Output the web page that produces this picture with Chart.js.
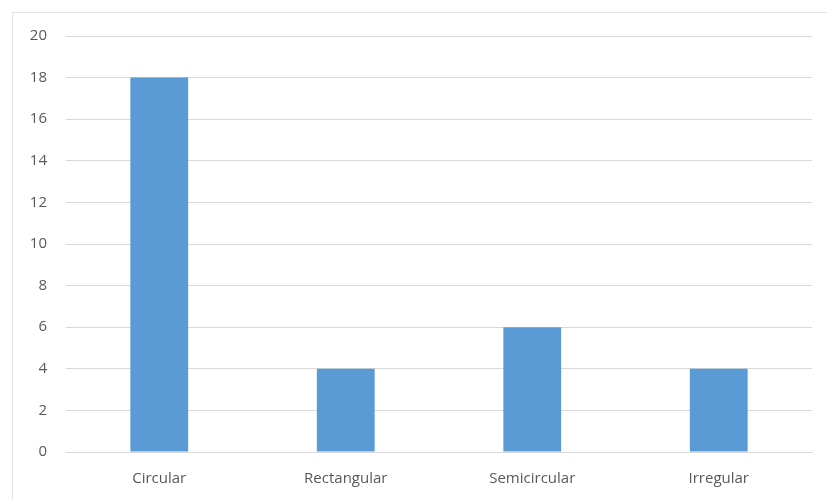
<!DOCTYPE html>
<html>
<head>
<meta charset="utf-8">
<script src="https://cdn.jsdelivr.net/npm/chart.js@4"></script>
<style>
  html, body { margin: 0; padding: 0; background: #fff; overflow: hidden; }
  #frame { position: absolute; left: 12px; top: 12px; width: 840px; height: 520px; border: 1px solid #e3e3e3; }
  #box { position: absolute; left: 0; top: 0; width: 814px; height: 487px; }
</style>
</head>
<body>
<div id="frame"><div id="box"><canvas id="chart"></canvas></div></div>
<script>
    // values
    const categories = ['Circular', 'Rectangular', 'Semicircular', 'Irregular'];
    const counts = [18, 4, 6, 4];
    const yTicks = [0, 2, 4, 6, 8, 10, 12, 14, 16, 18, 20];

    const barColor = '#5b9bd5';
    const tickFont = { family: 'Open Sans', size: 15 };

    new Chart(document.getElementById('chart'), {
        type: 'bar',
        data: {
            labels: categories,
            datasets: [{ label: 'Count', data: counts, backgroundColor: barColor, borderWidth: 0,
                categoryPercentage: 1.0, barPercentage: 0.31 }]
        },
        options: {
            responsive: true,
            maintainAspectRatio: false,
            animation: false,
            layout: { padding: { top: 23, right: 15, left: 0, bottom: 0 } },
            plugins: { legend: { display: false }, tooltip: { enabled: false } },
            scales: {
                x: {
                    grid: { display: false, drawTicks: false },
                    border: { display: true, color: '#d9d9d9', width: 1 },
                    ticks: { color: '#595959', font: tickFont, padding: 18 },
                    afterFit: function(scale) { scale.height = 48; }
                },
                y: {
                    min: 0,
                    max: yTicks[yTicks.length - 1],
                    afterBuildTicks: function(scale) { scale.ticks = yTicks.map(v => ({ value: v })); },
                    // invisible tick marks give the label gap without padding the top
                    grid: { color: '#d9d9d9', drawTicks: true, tickLength: 19, tickColor: 'rgba(0,0,0,0)' },
                    border: { display: false },
                    ticks: { color: '#595959', font: tickFont, padding: 0 },
                    afterFit: function(scale) { scale.width = 53; }
                }
            }
        }
    });
</script>
</body>
</html>
